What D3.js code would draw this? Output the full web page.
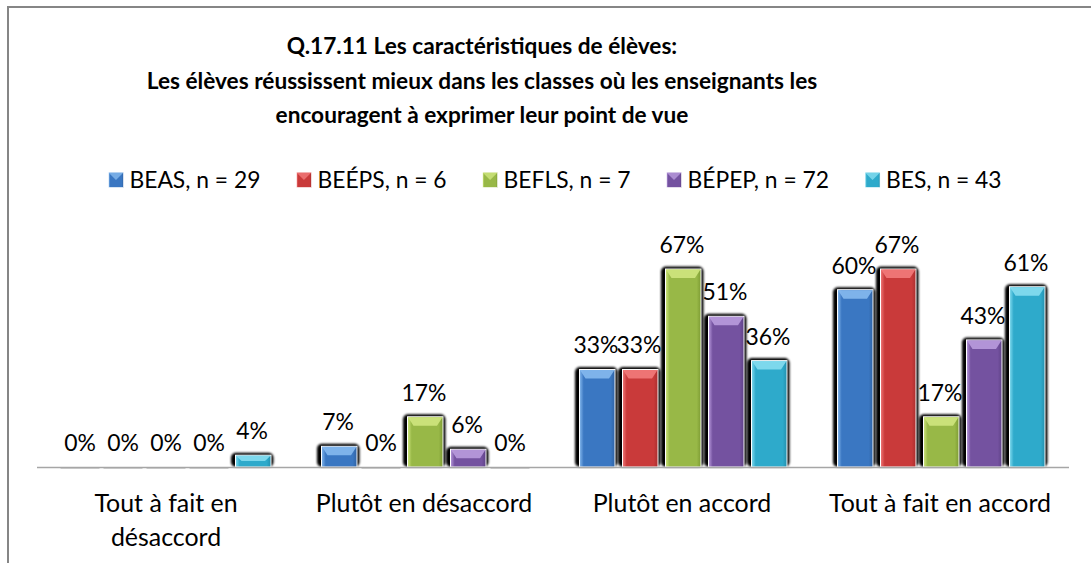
<!DOCTYPE html>
<html>
<head>
<meta charset="utf-8">
<script src="https://cdn.jsdelivr.net/npm/d3@7"></script>
<style>
  html, body { margin: 0; padding: 0; background: #fff; overflow: hidden; }
  svg { display: block; }
</style>
</head>
<body>
<svg id="chart" width="1091" height="563"></svg>
<script>
// ---------- data ----------
const titleLines = [
  "Q.17.11 Les caractéristiques de élèves:",
  "Les élèves réussissent mieux dans les classes où les enseignants les",
  "encouragent à exprimer leur point de vue"
];
const categories = ["Tout à fait en désaccord", "Plutôt en désaccord", "Plutôt en accord", "Tout à fait en accord"];
const seriesNames = ["BEAS, n = 29", "BEÉPS, n = 6", "BEFLS, n = 7", "BÉPEP, n = 72", "BES, n = 43"];
const BEAS  = [0, 7, 33, 60];
const BEEPS = [0, 0, 33, 67];
const BEFLS = [0, 17, 67, 17];
const BEPEP = [0, 6, 51, 43];
const BES   = [4, 0, 36, 61];
const seriesValues = [BEAS, BEEPS, BEFLS, BEPEP, BES];
const seriesColors = ["#3A77C2", "#C93A3A", "#98B847", "#7452A0", "#2EAACB"];
const seriesLight  = ["#86B9EE", "#F27B7B", "#CFE67E", "#B99BDD", "#86DDF0"];
const seriesDark   = ["#2F62A3", "#A82E2E", "#7C9A33", "#5E4186", "#238FAD"];

// ---------- setup ----------
const svg = d3.select("#chart");
const FONT = "Lato, 'Open Sans', sans-serif";

function measure(text, size, weight) {
  const t = svg.append("text").attr("font-family", FONT).attr("font-size", size)
    .attr("font-weight", weight).text(text);
  const w = t.node().getComputedTextLength();
  t.remove();
  return w;
}
function fit(text, weight, target) {
  return 100 * target / measure(text, 100, weight);
}
const titleSize = fit(titleLines[1], "bold", 671);
const legendSize = fit(seriesNames[0], "normal", 131);
const labelSize = fit("61%", "normal", 45);
const catSize = fit("Tout à fait en accord", "normal", 222);

// defs
const defs = svg.append("defs");
const blur = defs.append("filter").attr("id", "shadowBlur")
  .attr("x", "-20%").attr("y", "-20%").attr("width", "140%").attr("height", "140%");
blur.append("feGaussianBlur").attr("stdDeviation", 0.9);
seriesColors.forEach((c, i) => {
  const g = defs.append("linearGradient").attr("id", "grad" + i)
    .attr("x1", 0).attr("x2", 1).attr("y1", 0).attr("y2", 0);
  g.append("stop").attr("offset", "0%").attr("stop-color", seriesLight[i]);
  g.append("stop").attr("offset", "12%").attr("stop-color", c);
  g.append("stop").attr("offset", "88%").attr("stop-color", c);
  g.append("stop").attr("offset", "100%").attr("stop-color", seriesDark[i]);
});

// frame
svg.append("rect").attr("x", 8).attr("y", 7).attr("width", 1200).attr("height", 700)
  .attr("fill", "#fff").attr("stroke", "#868686").attr("stroke-width", 2);

// title
const cx = 482;
svg.append("g").selectAll("text").data(titleLines).join("text")
  .attr("x", cx).attr("y", (d, i) => 54 + i * 34.5)
  .attr("text-anchor", "middle").attr("font-family", FONT)
  .attr("font-weight", "bold").attr("font-size", titleSize).attr("fill", "#000")
  .text(d => d);

// legend
const sq = 15, sqGap = 6, itemGap = 36;
const widths = seriesNames.map(n => measure(n, legendSize, "normal"));
const total = d3.sum(widths) + seriesNames.length * (sq + sqGap) + (seriesNames.length - 1) * itemGap;
let lx = 555 - total / 2;
const legend = svg.append("g");
seriesNames.forEach((n, i) => {
  const g = legend.append("g").attr("transform", `translate(${lx},180)`);
  g.append("rect").attr("x", 0).attr("y", -7.5).attr("width", sq).attr("height", sq)
    .attr("fill", `url(#grad${i})`).attr("stroke", "#fff").attr("stroke-width", 0.6);
  g.append("path").attr("d", `M0,-7.5 L${sq},-7.5 L${sq / 2},0 Z`).attr("fill", seriesLight[i]).attr("opacity", 0.8);
  g.append("text").attr("x", sq + sqGap).attr("y", 0).attr("dy", "0.35em")
    .attr("font-family", FONT).attr("font-size", legendSize).attr("fill", "#000").text(n);
  lx += sq + sqGap + widths[i] + itemGap;
});

// scales
const x0 = d3.scaleBand().domain(categories).range([37, 1069]).paddingInner(0).paddingOuter(0);
const x1 = d3.scaleBand().domain(d3.range(seriesNames.length)).range([0, x0.bandwidth()])
  .paddingInner(0).paddingOuter(0.5);
const y = d3.scaleLinear().domain([0, 100]).range([467, 171.5]);

// data labels (drawn first, bars overlap them like the original)
const labels = svg.append("g");
categories.forEach((c, ci) => {
  seriesValues.forEach((vals, si) => {
    labels.append("text")
      .attr("x", x0(c) + x1(si) + x1.bandwidth() / 2)
      .attr("y", y(vals[ci]) - 16)
      .attr("text-anchor", "middle").attr("font-family", FONT)
      .attr("font-size", labelSize).attr("fill", "#000")
      .text(vals[ci] + "%");
  });
});

// bars
const bars = svg.append("g");
categories.forEach((c, ci) => {
  seriesValues.forEach((vals, si) => {
    const slot = x0(c) + x1(si);
    const bx = slot + 5, bw = x1.bandwidth() - 7.5;
    const top = y(vals[ci]), h = y(0) - top;
    if (h > 0.5) {
      // black shadow
      bars.append("rect").attr("x", slot + 0.5).attr("y", top - 2.5)
        .attr("width", x1.bandwidth() - 0.5).attr("height", h + 2.5)
        .attr("rx", 5).attr("fill", "#000").attr("filter", "url(#shadowBlur)");
      bars.append("rect").attr("x", bx).attr("y", top).attr("width", bw).attr("height", h)
        .attr("fill", `url(#grad${si})`).attr("stroke", "#fff").attr("stroke-width", 1);
      const bev = Math.min(9, h / 2);
      bars.append("path")
        .attr("d", `M${bx + 0.5},${top + 0.5} L${bx + bw - 0.5},${top + 0.5} L${bx + bw - 6},${top + bev} L${bx + 6},${top + bev} Z`)
        .attr("fill", seriesLight[si]).attr("opacity", 0.9);
    } else {
      // faint trace of a zero-height bar on the axis
      bars.append("line").attr("x1", slot + 2).attr("x2", slot + x1.bandwidth() - 2)
        .attr("y1", y(0) + 1.5).attr("y2", y(0) + 1.5)
        .attr("stroke", "#D0D0D0").attr("stroke-width", 1);
    }
  });
});

// axis line
svg.append("line").attr("x1", x0.range()[0]).attr("x2", x0.range()[1])
  .attr("y1", y(0) + 0.5).attr("y2", y(0) + 0.5)
  .attr("stroke", "#A6A6A6").attr("stroke-width", 1.5);

// category labels with wrapping
const catG = svg.append("g");
categories.forEach(c => {
  const words = c.split(" ");
  const lines = [];
  let line = [];
  words.forEach(w => {
    const test = line.concat(w).join(" ");
    if (line.length && measure(test, catSize, "normal") > 235) {
      lines.push(line.join(" "));
      line = [w];
    } else line.push(w);
  });
  lines.push(line.join(" "));
  lines.forEach((l, i) => {
    catG.append("text").attr("x", x0(c) + x0.bandwidth() / 2).attr("y", 512 + i * 34)
      .attr("text-anchor", "middle").attr("font-family", FONT)
      .attr("font-size", catSize).attr("fill", "#000").text(l);
  });
});
</script>
</body>
</html>
